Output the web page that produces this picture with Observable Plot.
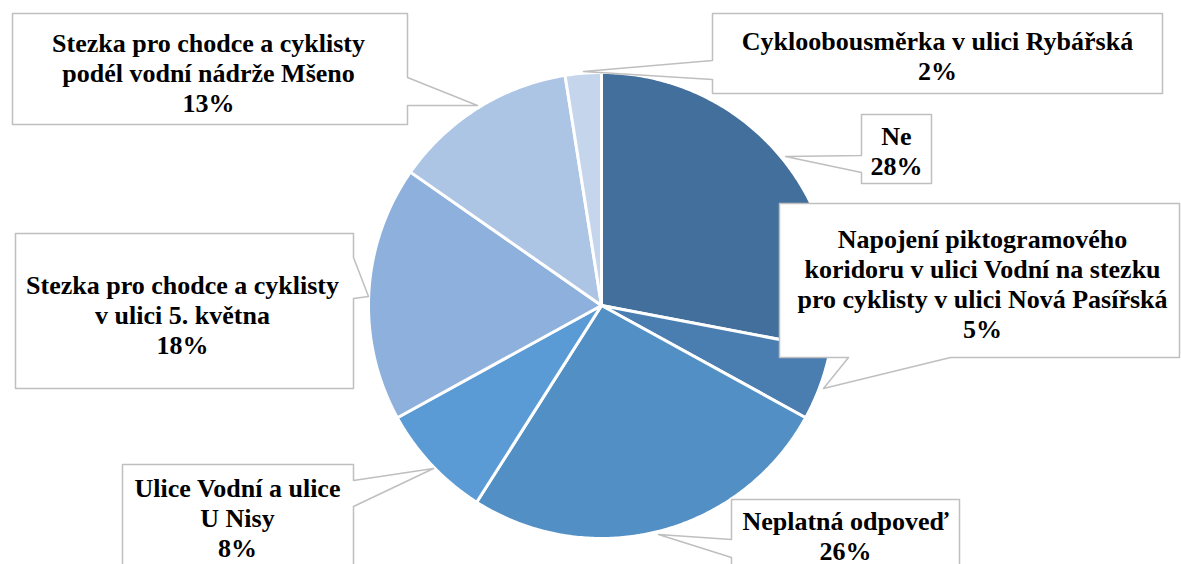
<!DOCTYPE html>
<html>
<head>
<meta charset="utf-8">
<script src="https://cdn.jsdelivr.net/npm/d3@7"></script>
<script src="https://cdn.jsdelivr.net/npm/@observablehq/plot@0.6"></script>
<style>
  html, body { margin: 0; padding: 0; background: #fff; }
  #chart svg { display: block; }
  #chart svg text { font-family: "Liberation Serif", "Times New Roman", "DejaVu Serif", serif !important; }
</style>
</head>
<body>
<div id="chart"></div>
<script>
// ---- data ----
const categories = [
  "Ne",
  "Napojení piktogramového\nkoridoru v ulici Vodní na stezku\npro cyklisty v ulici Nová Pasířská",
  "Neplatná odpoveď",
  "Ulice Vodní a ulice\nU Nisy",
  "Stezka pro chodce a cyklisty\nv ulici 5. května",
  "Stezka pro chodce a cyklisty\npodél vodní nádrže Mšeno",
  "Cykloobousměrka v ulici Rybářská"
];
const values = [28, 5, 26, 8, 17.7, 12.8, 2.5];
const percentLabels = ["28%", "5%", "26%", "8%", "18%", "13%", "2%"];
const colors = ["#426F9B", "#4A7DB0", "#528FC4", "#5B9BD5", "#8DB0DC", "#ADC5E5", "#C5D6EC"];

// ---- layout (pixel space) ----
const W = 1181, H = 564;
const center = [601, 305], radius = 233;
// callout boxes: [x1, y1, x2, y2], pointer edge, attach a1/a2, tip
const boxes = [
  {box: [861, 114, 931, 183], edge: "left", a: [155, 172], tip: [785, 156], tx: 896, ty: 150},
  {box: [779, 203, 1179, 357], edge: "bottom", a: [848, 950], tip: [823, 388], tx: 982, ty: 283},
  {box: [731, 499, 959, 600], edge: "left", a: [539, 557], tip: [658, 534], tx: 845, ty: 535},
  {box: [122, 464, 353, 600], edge: "right", a: [480, 506], tip: [433, 468], tx: 237, ty: 517},
  {box: [15, 233, 353, 388], edge: "right", a: [257, 298], tip: [368, 296], tx: 182, ty: 314},
  {box: [12, 13, 407, 124], edge: "right", a: [77, 105], tip: [477, 105], tx: 208, ty: 72},
  {box: [712, 13, 1162, 93], edge: "left", a: [60, 79], tip: [583, 71], tx: 937, ty: 55}
];

// ---- pie slices as polygons ----
const arcs = d3.pie().sort(null).startAngle(0).endAngle(2 * Math.PI)(values);
const slicePts = [];
arcs.forEach((a, i) => {
  slicePts.push({id: i, x: center[0], y: center[1], color: colors[i]});
  const n = Math.max(4, Math.ceil((a.endAngle - a.startAngle) / 0.01));
  for (let k = 0; k <= n; k++) {
    const t = a.startAngle + (a.endAngle - a.startAngle) * k / n;
    slicePts.push({id: i, x: center[0] + radius * Math.sin(t), y: center[1] - radius * Math.cos(t), color: colors[i]});
  }
});

// ---- callout polygons ----
const calloutPts = [];
boxes.forEach((b, i) => {
  const [x1, y1, x2, y2] = b.box;
  const pts = [[x1, y1], [x2, y1]];
  if (b.edge === "right") pts.push([x2, b.a[0]], b.tip, [x2, b.a[1]]);
  pts.push([x2, y2]);
  if (b.edge === "bottom") pts.push([b.a[1], y2], b.tip, [b.a[0], y2]);
  pts.push([x1, y2]);
  if (b.edge === "left") pts.push([x1, b.a[1]], b.tip, [x1, b.a[0]]);
  pts.forEach(p => calloutPts.push({id: i, x: p[0], y: p[1]}));
});

const labels = boxes.map((b, i) => ({x: b.tx, y: b.ty, text: categories[i] + "\n" + percentLabels[i]}));

const chart = Plot.plot({
  width: W,
  height: H,
  margin: 0,
  style: {fontFamily: "'Liberation Serif', 'Times New Roman', serif"},
  x: {domain: [0, W], range: [0, W], axis: null},
  y: {domain: [0, H], range: [0, H], axis: null},
  color: {type: "identity"},
  marks: [
    Plot.line(slicePts, {x: "x", y: "y", z: "id", fill: "color", stroke: "white", strokeWidth: 3, curve: "linear-closed", strokeLinejoin: "round"}),
    Plot.line(calloutPts, {x: "x", y: "y", z: "id", fill: "white", stroke: "#BFBFBF", strokeWidth: 1.5, curve: "linear-closed"}),
    Plot.text(labels, {x: "x", y: "y", text: "text", fontFamily: "'Liberation Serif', 'Times New Roman', serif", fontWeight: "bold", fontSize: 26, lineHeight: 1.15, fill: "black", lineAnchor: "middle", textAnchor: "middle"})
  ]
});
document.getElementById("chart").appendChild(chart);
</script>
</body>
</html>
